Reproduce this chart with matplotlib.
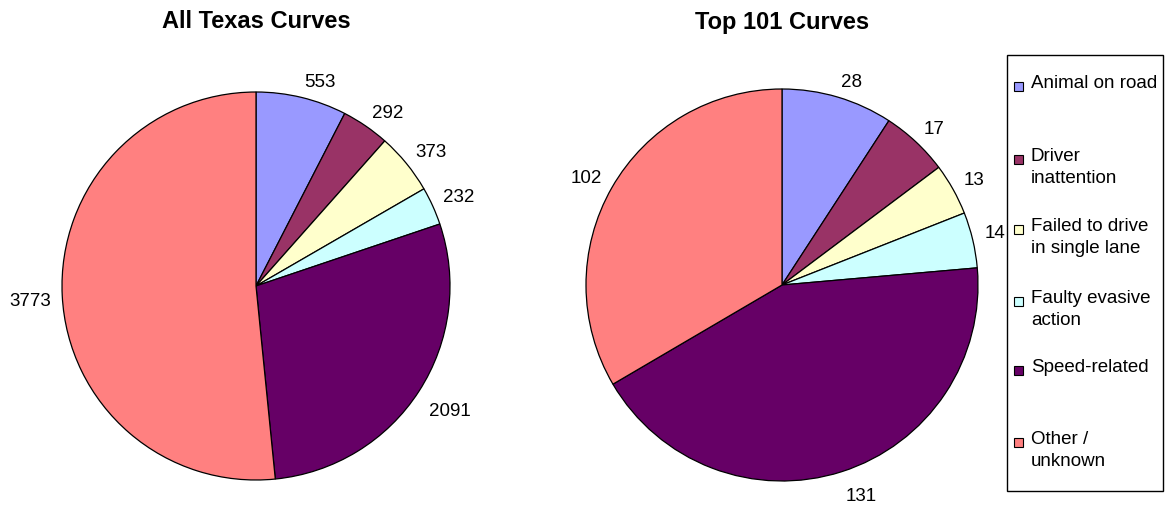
import numpy as np
import matplotlib
matplotlib.use("Agg")
import matplotlib.pyplot as plt
from matplotlib.patches import Rectangle

plt.rcParams['font.family'] = ['Liberation Sans', 'DejaVu Sans']

# Crash causes on curves
categories = ["Animal on road", "Driver inattention", "Failed to drive in single lane",
              "Faulty evasive action", "Speed-related", "Other / unknown"]
legend_labels = ["Animal on road", "Driver\ninattention", "Failed to drive\nin single lane",
                 "Faulty evasive\naction", "Speed-related", "Other /\nunknown"]
all_texas = [553, 292, 373, 232, 2091, 3773]
top_101 = [28, 17, 13, 14, 131, 102]
colors = ["#9999FF", "#993366", "#FFFFCC", "#CCFFFF", "#660066", "#FF8080"]
titles = ["All Texas Curves", "Top 101 Curves"]

W, H = 1168, 506
fig = plt.figure(figsize=(W / 100, H / 100), dpi=100)


def add_pie_axes(cx, cy, r):
    return fig.add_axes([(cx - r) / W, 1 - (cy + r) / H, 2 * r / W, 2 * r / H])


specs = [(256, 287, 194), (782, 286, 196)]
for (cx, cy, r), values, title in zip(specs, [all_texas, top_101], titles):
    ax = add_pie_axes(cx, cy, r)
    wedges, _ = ax.pie(values, colors=colors, startangle=90, counterclock=False,
                       wedgeprops=dict(edgecolor="black", linewidth=0.9))
    # value labels: nearest corner of each label sits just outside the rim
    for w, v in zip(wedges, values):
        ang = np.deg2rad((w.theta1 + w.theta2) / 2)
        x, y = 1.06 * np.cos(ang), 1.06 * np.sin(ang)
        ha = "left" if x > 0 else "right"
        if abs(y) < 0.15:
            va = "center"
        else:
            va = "bottom" if y > 0 else "top"
        ax.annotate(str(v), (x, y), xytext=(0, -3), textcoords="offset points",
                    ha=ha, va=va, fontsize=13.5, color="black", annotation_clip=False)
    ax.set_xlim(-1, 1)
    ax.set_ylim(-1, 1)
    ax.set_aspect("equal")
    fig.text(cx / W, 1 - 22 / H, title, ha="center", va="center",
             fontsize=17, fontweight="bold")

# Legend box
fig.patches.append(Rectangle((1007 / W, 1 - 492 / H), (1163 - 1007) / W, (492 - 56) / H,
                             transform=fig.transFigure, facecolor="white",
                             edgecolor="black", linewidth=1.0))
marker_y = [87, 160, 230, 302, 371, 443]
for label, color, y in zip(legend_labels, colors, marker_y):
    fig.patches.append(Rectangle((1014 / W, 1 - (y + 4.5) / H), 9 / W, 9 / H,
                                 transform=fig.transFigure, facecolor=color,
                                 edgecolor="black", linewidth=0.8))
    fig.text(1031 / W, 1 - (y - 12) / H, label, ha="left", va="top",
             fontsize=13.5, linespacing=1.38)

fig.savefig("out.png", dpi=100)
